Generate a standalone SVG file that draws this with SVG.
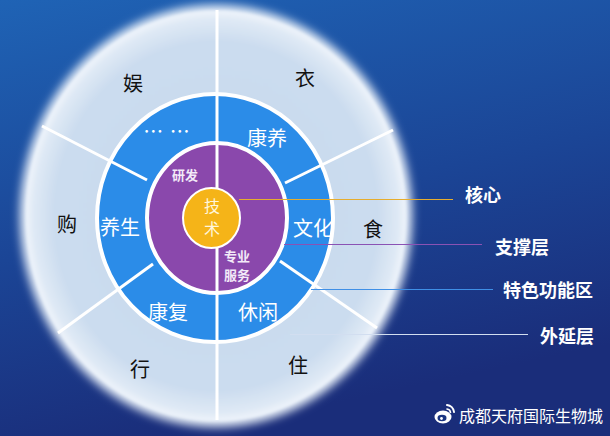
<svg xmlns="http://www.w3.org/2000/svg" width="610" height="436" viewBox="0 0 610 436">
<defs>
<linearGradient id="bg" x1="0" y1="0" x2="0.3" y2="1">
<stop offset="0" stop-color="#1f63b5"/>
<stop offset="0.55" stop-color="#1b4596"/>
<stop offset="1" stop-color="#1a2d7a"/>
</linearGradient>
<radialGradient id="disc" cx="0.5" cy="0.5" r="0.5">
<stop offset="0" stop-color="#c6d8ed"/>
<stop offset="0.85" stop-color="#cbdcef"/>
<stop offset="0.96" stop-color="#dfe9f5"/>
<stop offset="1" stop-color="#eef4fb"/>
</radialGradient>
<filter id="glow" x="-10%" y="-10%" width="120%" height="120%">
<feGaussianBlur stdDeviation="5"/>
</filter>
<filter id="soft" x="-10%" y="-10%" width="120%" height="120%">
<feGaussianBlur stdDeviation="1.5"/>
</filter>
<style>
.outer{font-family:"Noto Sans CJK SC","Noto Sans",sans-serif;font-size:20px;fill:#111;text-anchor:middle;dominant-baseline:central}
.ring{font-family:"Noto Sans CJK SC","Noto Sans",sans-serif;font-size:20px;fill:#fff;text-anchor:middle;dominant-baseline:central}
.sup{font-family:"Noto Sans CJK SC","Noto Sans",sans-serif;font-size:13px;font-weight:bold;fill:#f3eaf8;text-anchor:middle;dominant-baseline:central}
.core{font-family:"Noto Sans CJK SC","Noto Sans",sans-serif;font-size:16px;fill:#fff6dc;text-anchor:middle;dominant-baseline:central}
.leg{font-family:"Noto Sans CJK SC","Noto Sans",sans-serif;font-size:18px;font-weight:bold;fill:#fff;dominant-baseline:central}
.wm{font-family:"Noto Sans CJK SC","Noto Sans",sans-serif;font-size:16px;fill:#fff;dominant-baseline:central}
.spoke{stroke:#fff;stroke-width:3;fill:none}
</style>
</defs>
<rect width="610" height="436" fill="url(#bg)"/>

<g id="outer-layer">
<ellipse cx="216" cy="216" rx="196" ry="211" fill="#e8f0f9" filter="url(#glow)"/>
<ellipse cx="216" cy="216" rx="190" ry="205" fill="url(#disc)" filter="url(#soft)"/>
<text class="outer" x="133" y="82">娱</text>
<text class="outer" x="305" y="77">衣</text>
<text class="outer" x="67" y="223">购</text>
<text class="outer" x="373" y="228">食</text>
<text class="outer" x="140" y="368">行</text>
<text class="outer" x="298" y="364">住</text>
</g>

<g id="feature-zone">
<ellipse cx="215" cy="218" rx="118" ry="124" fill="#2b8ce8" stroke="#ffffff" stroke-width="4"/>
</g>

<g id="dividers">
<line class="spoke" x1="217" y1="10" x2="217" y2="420"/>
<line class="spoke" x1="42" y1="126" x2="147" y2="180"/>
<line class="spoke" x1="393" y1="130" x2="285" y2="183"/>
<line class="spoke" x1="58" y1="333" x2="153" y2="264"/>
<line class="spoke" x1="280" y1="261" x2="377" y2="328"/>
</g>

<g id="feature-labels">
<text class="ring" x="167" y="130" font-size="16" letter-spacing="1">… …</text>
<text class="ring" x="267" y="137">康养</text>
<text class="ring" x="120" y="226">养生</text>
<text class="ring" x="313" y="227">文化</text>
<text class="ring" x="168" y="311">康复</text>
<text class="ring" x="258" y="311">休闲</text>
</g>

<g id="support-layer">
<ellipse cx="217" cy="218" rx="70" ry="75" fill="#8a48ac" stroke="#ffffff" stroke-width="4"/>
<line x1="217" y1="143" x2="217" y2="293" stroke="#fff" stroke-width="3"/>
<text class="sup" x="185" y="174">研发</text>
<text class="sup" x="237" y="255">专业<tspan x="237" dy="19">服务</tspan></text>
</g>

<g id="core">
<ellipse cx="211.5" cy="218" rx="28.5" ry="30" fill="#f5b418" stroke="#ffffff" stroke-width="2"/>
<text class="core" x="212" y="204.5">技<tspan x="212" dy="23.5">术</tspan></text>
</g>

<g id="connectors">
<line x1="239" y1="199.5" x2="453" y2="199.5" stroke="#e6ad2e" stroke-width="1.2"/>
<line x1="284" y1="244.5" x2="482" y2="244.5" stroke="#8a52b4" stroke-width="1.2"/>
<line x1="311" y1="289.5" x2="493" y2="289.5" stroke="#3f8fe6" stroke-width="1.2"/>
<line x1="290" y1="334.5" x2="528" y2="334.5" stroke="#d2def0" stroke-width="1.2"/>
</g>

<g id="legend">
<text class="leg" x="465" y="194">核心</text>
<text class="leg" x="495" y="246">支撑层</text>
<text class="leg" x="503" y="289">特色功能区</text>
<text class="leg" x="540" y="335">外延层</text>
</g>

<g id="watermark">
<ellipse cx="443" cy="417" rx="8.5" ry="6.5" fill="#fff"/>
<ellipse cx="442" cy="418" rx="4.5" ry="3.3" fill="#1b3582"/>
<circle cx="441.5" cy="418.5" r="1.4" fill="#fff"/>
<path d="M447 405 a8 8 0 0 1 7 7" stroke="#fff" stroke-width="2" fill="none" stroke-linecap="round"/>
<path d="M447 409 a4 4 0 0 1 3.5 3.5" stroke="#fff" stroke-width="1.6" fill="none" stroke-linecap="round"/>
<text class="wm" x="459" y="415">成都天府国际生物城</text>
</g>
</svg>
